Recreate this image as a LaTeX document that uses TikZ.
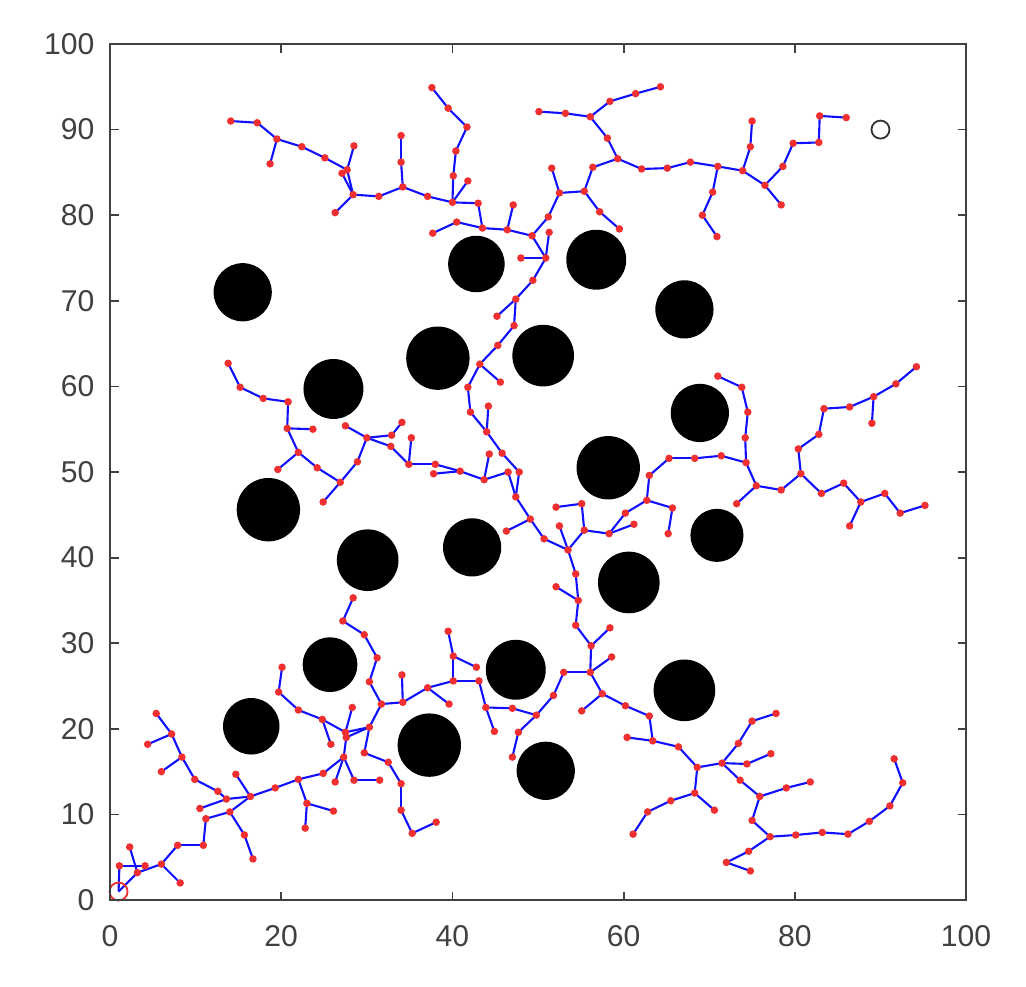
\documentclass[tikz,border=0pt]{standalone}
\usepackage{fontspec}
\setmainfont{Liberation Sans}
\usetikzlibrary{positioning}
\definecolor{Axis}{HTML}{404040}
\definecolor{Edge}{HTML}{1010FF}
\definecolor{Vert}{HTML}{F03030}

\begin{document}
\begin{tikzpicture}[x=1mm,y=1mm,
    branch/.style={Edge,line width=0.7pt},
    vertex/.style={fill=Vert},
    obst/.style={fill=black},
    frame/.style={Axis,line width=0.6pt},
    ticklabel/.style={font=\fontsize{10}{12}\selectfont,text=Axis,inner sep=0pt}]
  \useasboundingbox (-12.85,-10.05) rectangle (107.0,105.14);
  % tree vertices
  \def\treepts{a1/14.1/91.0,a2/17.2/90.8,a3/19.5/88.9,a4/18.7/86.0,a5/22.4/88.0,a6/25.1/86.7,
    a7/27.7/85.3,a8/27.1/84.9,a9/28.5/88.1,a10/28.4/82.4,a11/26.3/80.3,a12/31.4/82.2,
    a13/34.2/83.3,a14/34.0/86.2,a15/34.0/89.3,
    b4/37.1/82.2,b5/40.0/81.5,b6/40.1/84.6,b7/40.4/87.5,b8/41.7/90.3,b9/39.5/92.5,b10/37.6/94.9,
    b11/41.8/84.0,b12/43.0/81.4,b13/43.5/78.5,b14/40.5/79.2,b15/37.7/77.9,b16/46.4/78.3,
    b17/47.1/81.2,b18/49.3/77.6,b19/51.2/79.8,b20/52.5/82.6,b21/51.6/85.5,b22/55.4/82.8,
    b23/57.2/80.4,b24/59.5/78.4,b25/56.4/85.6,b26/59.3/86.6,b27/58.1/89.0,b28/56.1/91.5,
    b29/53.2/91.9,b30/50.1/92.1,b31/58.4/93.3,b32/61.4/94.2,b33/64.3/95.0,b34/62.1/85.4,
    b35/65.1/85.5,b36/67.8/86.2,b37/50.9/75.0,b38/48.0/75.0,b39/51.3/78.0,b40/49.4/72.4,
    b41/47.4/70.2,b42/45.2/68.2,b43/47.2/67.1,
    c3/71.0/85.7,c4/70.4/82.7,c5/69.2/80.0,c6/70.9/77.5,c7/73.9/85.2,c8/74.8/88.0,c9/75.0/91.0,
    c10/76.5/83.5,c11/78.4/81.2,c12/78.6/85.7,c13/79.8/88.4,c14/82.8/88.5,c15/82.9/91.6,c16/86.0/91.4,
    d1/13.8/62.7,d2/15.2/59.9,d3/17.9/58.6,d4/20.8/58.2,d5/20.7/55.1,d6/23.7/55.0,d7/22.0/52.3,
    d8/19.6/50.3,d9/24.2/50.5,d10/26.9/48.8,d11/24.9/46.5,d12/28.9/51.2,d13/30.0/54.0,
    d14/27.5/55.4,d15/32.9/54.3,d16/32.8/53.0,d17/34.1/55.8,d18/28.4/35.3,d19/27.2/32.6,
    e4/35.2/54.0,e5/34.9/50.9,e6/38.0/50.9,e7/37.8/49.8,e8/40.9/50.1,e9/43.7/49.1,e10/44.3/52.1,
    e11/46.5/50.0,e12/47.8/50.0,e13/47.4/47.1,e14/49.1/44.5,e15/46.3/43.1,e16/50.7/42.2,
    e17/53.5/40.9,e18/52.5/43.7,e19/52.1/45.9,e20/55.1/46.3,e21/55.4/43.2,e22/58.3/42.8,
    e23/60.2/45.2,e24/61.2/43.9,e25/62.7/46.7,e26/63.0/49.6,e27/65.3/51.6,e28/65.7/45.8,
    e29/65.2/42.8,e30/54.4/38.1,e31/52.1/36.6,e32/54.7/35.0,e33/54.4/32.1,e34/45.3/64.8,
    e35/43.2/62.6,e36/45.6/60.5,e37/41.8/59.9,e38/42.1/57.0,e39/44.2/57.7,e40/44.0/54.7,e41/45.8/52.2,
    f1/71.0/61.2,f2/73.8/59.9,f3/74.5/57.0,f4/74.2/54.0,f5/74.3/51.1,f6/71.4/51.9,f7/68.3/51.6,
    f9/75.5/48.4,f10/73.2/46.3,f11/78.4/47.9,f12/80.7/49.8,f13/80.4/52.7,f14/82.8/54.4,
    f15/83.4/57.4,f16/86.4/57.6,f17/89.2/58.8,f18/89.0/55.7,f19/91.8/60.3,f20/94.2/62.3,
    f21/83.1/47.5,f22/85.7/48.7,f23/87.7/46.5,f24/86.4/43.7,f25/90.5/47.5,f26/92.3/45.2,f27/95.2/46.1,
    g1/1.1/4.0,g2/2.3/6.2,g3/3.2/3.2,g4/4.1/4.0,g5/6.0/4.2,g6/8.2/2.0,g7/7.9/6.4,g8/10.9/6.4,
    g9/11.2/9.5,g10/14.0/10.3,g11/10.5/10.7,g12/13.6/11.8,g13/12.6/12.7,g14/16.4/12.1,
    g15/14.7/14.7,g16/9.9/14.1,g17/8.4/16.7,g18/6.0/15.0,g19/7.2/19.4,g20/4.4/18.2,g21/5.4/21.8,
    g22/15.7/7.6,g23/16.7/4.8,g24/19.3/13.1,g25/22.0/14.1,g26/23.0/11.3,g27/26.1/10.4,
    g28/22.8/8.4,g29/24.9/14.8,g30/27.3/16.7,g31/26.3/13.8,g32/28.5/14.0,g33/31.5/14.0,
    g34/27.6/19.0,g35/27.5/19.6,g36/30.3/20.2,g37/29.7/17.2,g38/28.3/22.5,g39/24.8/21.1,
    g40/25.8/18.2,g41/22.0/22.2,g42/19.7/24.3,g43/20.1/27.2,g44/31.7/22.9,g45/30.3/25.5,
    g46/31.2/28.3,g47/29.7/31.0,g49/34.1/26.3,g50/34.2/23.1,g51/32.5/16.1,g52/34.0/13.6,g53/34.0/10.5,
    h1/39.5/31.4,h2/40.1/28.5,h3/42.8/27.2,h4/40.1/25.6,h5/43.1/25.6,h6/37.1/24.8,h9/39.6/22.9,
    h10/43.9/22.5,h11/47.0/22.4,h12/49.8/21.6,h13/44.9/19.7,h14/51.8/23.9,h15/53.0/26.6,
    h16/56.1/26.6,h17/56.2/29.7,h19/58.4/31.8,h20/58.6/28.4,h21/57.5/24.1,h22/55.1/22.1,
    h23/60.2/22.7,h24/63.0/21.5,h25/63.4/18.6,h26/60.4/19.0,h27/66.4/17.9,h28/47.7/19.6,
    h29/47.0/16.7,h33/35.3/7.8,h34/38.1/9.1,h35/65.5/11.6,h36/62.8/10.3,h37/61.1/7.7,
    i2/68.6/15.5,i3/71.5/16.0,i4/74.4/15.9,i5/77.2/17.1,i6/73.4/18.3,i7/75.0/20.9,i8/77.8/21.8,
    i9/73.6/14.0,i10/75.9/12.1,i11/79.0/13.1,i12/81.8/13.8,i13/75.0/9.3,i14/77.1/7.4,
    i15/80.1/7.6,i16/83.2/7.9,i17/86.2/7.7,i18/88.7/9.2,i19/91.1/11.0,i20/92.6/13.7,
    i21/91.6/16.5,i22/74.6/5.7,i23/72.0/4.4,i24/74.8/3.4,i25/68.3/12.5,i27/70.6/10.5}
  % tree edges (parent/child)
  \def\treeedges{start/g1,start/g3,g1/g4,g3/g2,g3/g5,g5/g6,g5/g7,g7/g8,g8/g9,g9/g10,g11/g12,
    g12/g14,g13/g12,g13/g16,g16/g17,g17/g18,g17/g19,g19/g20,g19/g21,g10/g14,g14/g15,g10/g22,
    g22/g23,g14/g24,g24/g25,g25/g26,g26/g27,g26/g28,g25/g29,g29/g30,g30/g31,g30/g32,g32/g33,
    g30/g34,g34/g35,g35/g39,g39/g41,g41/g42,g42/g43,g39/g40,g35/g38,g35/g36,g34/g36,g36/g37,
    g36/g44,g44/g45,g45/g46,g46/g47,g47/d19,d19/d18,g44/g50,g50/g49,g37/g51,g51/g52,g52/g53,
    g53/h33,h33/h34,
    g50/h6,h6/h9,h6/h4,h4/h2,h2/h1,h2/h3,h4/h5,h5/h10,h10/h13,h10/h11,h11/h12,h12/h28,h28/h29,
    h12/h14,h14/h15,h15/h16,h16/h17,h17/e33,h17/h19,h16/h20,h16/h21,h21/h22,h21/h23,h23/h24,
    h24/h25,h25/h26,h25/h27,h27/i2,i2/i3,i3/i4,i4/i5,i3/i6,i6/i7,i7/i8,i3/i9,i9/i10,i10/i11,
    i11/i12,i10/i13,i13/i14,i14/i15,i15/i16,i16/i17,i17/i18,i18/i19,i19/i20,i20/i21,i14/i22,
    i22/i23,i23/i24,i2/i25,i25/h35,i25/i27,h35/h36,h36/h37,
    e33/e32,e32/e31,e32/e30,e30/e17,e17/e18,e17/e21,e21/e20,e20/e19,e21/e22,e22/e23,e22/e24,
    e23/e25,e25/e26,e26/e27,e25/e28,e28/e29,e27/f7,f7/f6,f6/f5,f5/f4,f4/f3,f3/f2,f2/f1,f5/f9,
    f9/f10,f9/f11,f11/f12,f12/f13,f13/f14,f14/f15,f15/f16,f16/f17,f17/f18,f17/f19,f19/f20,
    f12/f21,f21/f22,f22/f23,f23/f24,f23/f25,f25/f26,f26/f27,
    e17/e16,e16/e14,e14/e15,e14/e13,e13/e11,e13/e12,e12/e41,e11/e9,e9/e10,e9/e8,e8/e6,e8/e7,
    e6/e5,e5/e4,e5/d16,d16/d13,d13/d15,d15/d17,d13/d14,d13/d12,d12/d10,d10/d11,d10/d9,d9/d7,
    d7/d8,d7/d5,d5/d6,d5/d4,d4/d3,d3/d2,d2/d1,
    e41/e40,e40/e39,e40/e38,e38/e37,e37/e35,e35/e36,e35/e34,e34/b43,b43/b41,b41/b42,b41/b40,
    b40/b37,b37/b38,b37/b39,b37/b18,b18/b16,b16/b17,b16/b13,b13/b14,b14/b15,b13/b12,b12/b5,
    b5/b11,b5/b6,b6/b7,b7/b8,b8/b9,b9/b10,b5/b4,b4/a13,a13/a14,a14/a15,a13/a12,a12/a10,
    a10/a11,a10/a7,a10/a8,a7/a9,a7/a6,a6/a5,a5/a3,a3/a4,a3/a2,a2/a1,
    b18/b19,b19/b20,b20/b21,b20/b22,b22/b23,b23/b24,b22/b25,b25/b26,b26/b27,b27/b28,b28/b29,
    b29/b30,b28/b31,b31/b32,b32/b33,b26/b34,b34/b35,b35/b36,b36/c3,c3/c4,c4/c5,c5/c6,c3/c7,
    c7/c8,c8/c9,c7/c10,c10/c11,c10/c12,c12/c13,c13/c14,c14/c15,c15/c16}

  \coordinate (start) at (1,1);
  \coordinate (goal) at (90,90);
  \foreach \n/\x/\y in \treepts {\coordinate (\n) at (\x,\y);}

  % obstacles
  \foreach \x/\y/\r in {15.5/71.0/3.4,42.8/74.3/3.3,56.8/74.8/3.5,67.1/69.0/3.4,38.3/63.3/3.7,
      50.6/63.6/3.6,26.1/59.7/3.5,68.9/56.9/3.4,58.2/50.5/3.7,18.5/45.6/3.7,70.9/42.6/3.1,
      42.3/41.2/3.4,30.1/39.7/3.6,60.6/37.1/3.6,25.7/27.5/3.2,47.4/26.9/3.5,67.1/24.5/3.6,
      16.5/20.3/3.3,37.3/18.1/3.7,50.9/15.1/3.4}
    {\fill[obst] (\x,\y) circle (\r);}

  \foreach \u/\v in \treeedges {\draw[branch] (\u) -- (\v);}
  \foreach \n/\x/\y in \treepts {\fill[vertex] (\n) circle (1.25pt);}

  \draw[Vert,line width=0.6pt] (start) circle (1.05);
  \draw[black!80,line width=0.6pt] (goal) circle (1.05);

  % axes
  \draw[frame] (0,0) rectangle (100,100);
  \foreach \v in {0,10,...,100} {
    \draw[frame] (0,\v) -- (1,\v);
    \draw[frame] (100,\v) -- (99,\v);
    \node[ticklabel,anchor=east] (ylab\v) at (-1.75,\v) {\v};
  }
  \foreach \v in {0,20,...,100} {
    \draw[frame] (\v,0) -- (\v,1);
    \draw[frame] (\v,100) -- (\v,99);
    \node[ticklabel,anchor=north] (xlab\v) at (\v,-2.9) {\v};
  }
\end{tikzpicture}
\end{document}
